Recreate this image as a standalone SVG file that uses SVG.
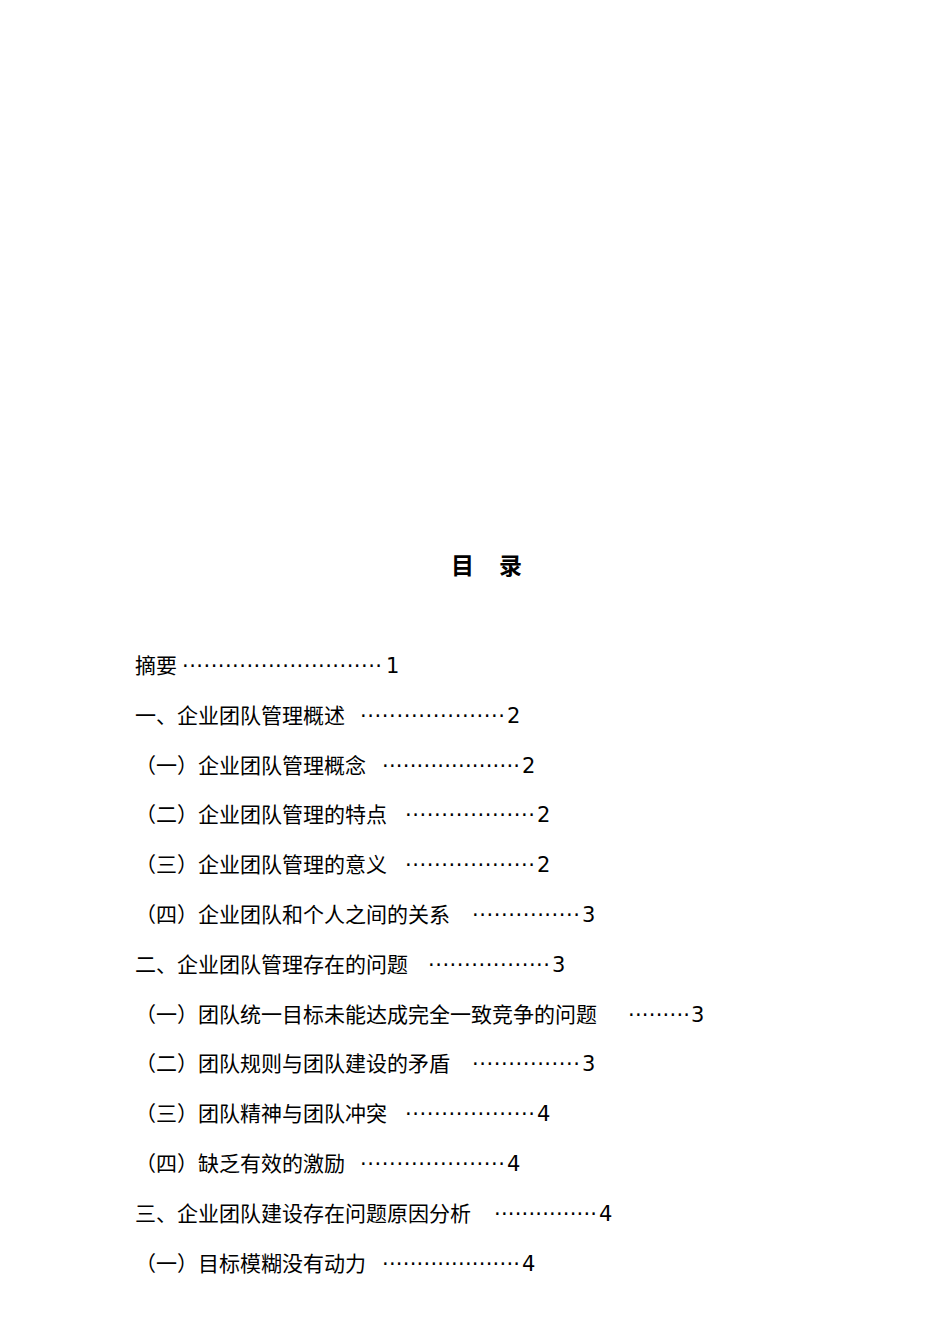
<svg xmlns="http://www.w3.org/2000/svg" width="950" height="1344" viewBox="0 0 950 1344">
<style>
text{font-family:"DejaVu Sans","Noto Sans CJK SC",sans-serif;font-size:21px;fill:#000}
.t{font-size:23px;font-weight:bold}
.d{font-family:"DejaVu Sans",sans-serif}
</style>
<rect width="950" height="1344" fill="#fff"/>
<g id="title"><text class="t" x="451" y="574">目</text><text class="t" x="499" y="574">录</text></g>
<g id="l1"><text x="135" y="673">摘要</text><text class="d" x="182" y="673" textLength="200" lengthAdjust="spacing">····························</text><text x="386" y="673">1</text></g>
<g id="l2"><text x="135" y="723">一、企业团队管理概述</text><text class="d" x="360" y="723" textLength="145" lengthAdjust="spacing">····················</text><text x="507" y="723">2</text></g>
<g id="l3"><text x="135" y="773">（一）企业团队管理概念</text><text class="d" x="382" y="773" textLength="138" lengthAdjust="spacing">····················</text><text x="522" y="773">2</text></g>
<g id="l4"><text x="135" y="822">（二）企业团队管理的特点</text><text class="d" x="405" y="822" textLength="130" lengthAdjust="spacing">··················</text><text x="537" y="822">2</text></g>
<g id="l5"><text x="135" y="872">（三）企业团队管理的意义</text><text class="d" x="405" y="872" textLength="130" lengthAdjust="spacing">··················</text><text x="537" y="872">2</text></g>
<g id="l6"><text x="135" y="922">（四）企业团队和个人之间的关系</text><text class="d" x="472" y="922" textLength="108" lengthAdjust="spacing">···············</text><text x="582" y="922">3</text></g>
<g id="l7"><text x="135" y="972">二、企业团队管理存在的问题</text><text class="d" x="428" y="972" textLength="122" lengthAdjust="spacing">·················</text><text x="552" y="972">3</text></g>
<g id="l8"><text x="135" y="1022">（一）团队统一目标未能达成完全一致竞争的问题</text><text class="d" x="628" y="1022" textLength="62" lengthAdjust="spacing">·········</text><text x="691" y="1022">3</text></g>
<g id="l9"><text x="135" y="1071">（二）团队规则与团队建设的矛盾</text><text class="d" x="472" y="1071" textLength="108" lengthAdjust="spacing">···············</text><text x="582" y="1071">3</text></g>
<g id="l10"><text x="135" y="1121">（三）团队精神与团队冲突</text><text class="d" x="405" y="1121" textLength="130" lengthAdjust="spacing">··················</text><text x="537" y="1121">4</text></g>
<g id="l11"><text x="135" y="1171">（四）缺乏有效的激励</text><text class="d" x="360" y="1171" textLength="145" lengthAdjust="spacing">····················</text><text x="507" y="1171">4</text></g>
<g id="l12"><text x="135" y="1221">三、企业团队建设存在问题原因分析</text><text class="d" x="494" y="1221" textLength="103" lengthAdjust="spacing">···············</text><text x="599" y="1221">4</text></g>
<g id="l13"><text x="135" y="1271">（一）目标模糊没有动力</text><text class="d" x="382" y="1271" textLength="138" lengthAdjust="spacing">····················</text><text x="522" y="1271">4</text></g>
</svg>
